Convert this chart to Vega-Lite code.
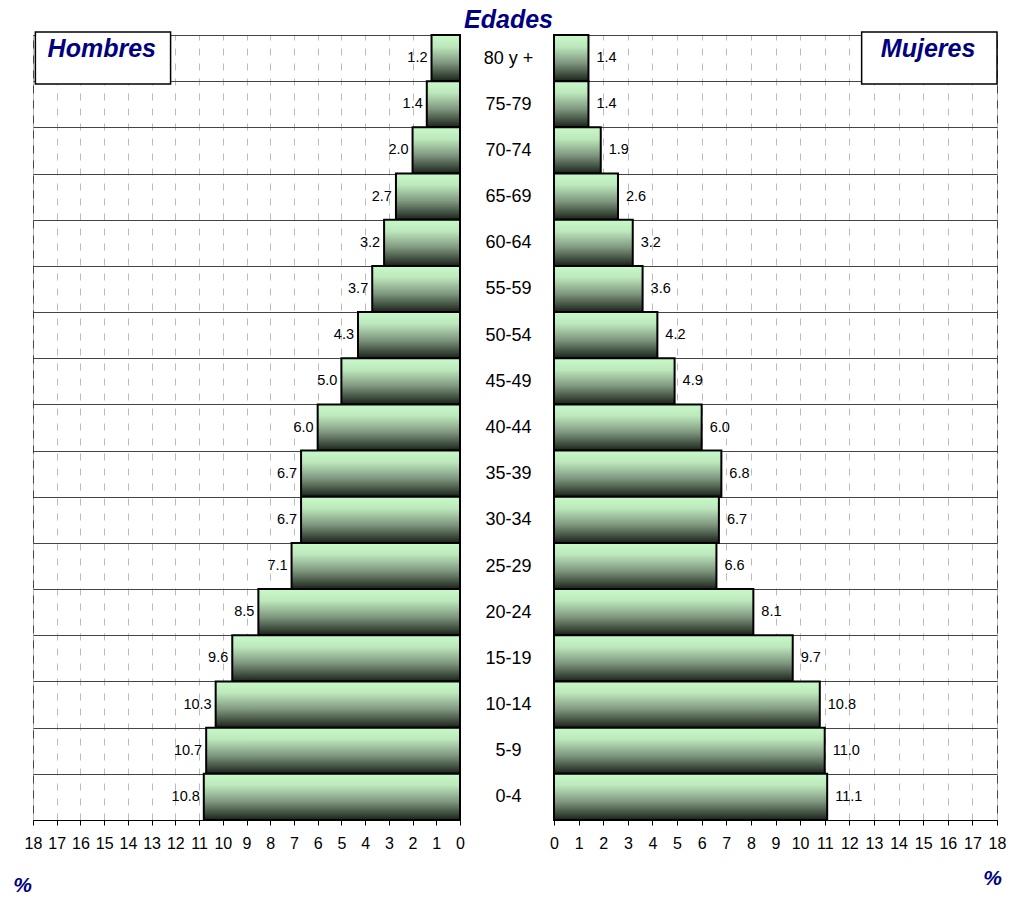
{
  "$schema": "https://vega.github.io/schema/vega-lite/v6.json",
  "background": "white",
  "padding": {"left": 12, "top": 6, "right": 0, "bottom": 0},
  "spacing": -2,
  "config": {
    "font": "Liberation Sans",
    "view": {"stroke": "#444", "strokeWidth": 1},
    "axis": {"labelFont": "Liberation Sans", "titleFont": "Liberation Sans"}
  },
  "datasets": {
    "pop": [
      {"edad": "80 y +", "hombres": 1.2, "mujeres": 1.4},
      {"edad": "75-79", "hombres": 1.4, "mujeres": 1.4},
      {"edad": "70-74", "hombres": 2.0, "mujeres": 1.9},
      {"edad": "65-69", "hombres": 2.7, "mujeres": 2.6},
      {"edad": "60-64", "hombres": 3.2, "mujeres": 3.2},
      {"edad": "55-59", "hombres": 3.7, "mujeres": 3.6},
      {"edad": "50-54", "hombres": 4.3, "mujeres": 4.2},
      {"edad": "45-49", "hombres": 5.0, "mujeres": 4.9},
      {"edad": "40-44", "hombres": 6.0, "mujeres": 6.0},
      {"edad": "35-39", "hombres": 6.7, "mujeres": 6.8},
      {"edad": "30-34", "hombres": 6.7, "mujeres": 6.7},
      {"edad": "25-29", "hombres": 7.1, "mujeres": 6.6},
      {"edad": "20-24", "hombres": 8.5, "mujeres": 8.1},
      {"edad": "15-19", "hombres": 9.6, "mujeres": 9.7},
      {"edad": "10-14", "hombres": 10.3, "mujeres": 10.8},
      {"edad": "5-9", "hombres": 10.7, "mujeres": 11.0},
      {"edad": "0-4", "hombres": 10.8, "mujeres": 11.1}
    ],
    "boxH": [{"edad": "80 y +", "label": "Hombres", "x1": 17.9, "x2": 12.2, "xt": 15.1}],
    "boxM": [{"edad": "80 y +", "label": "Mujeres", "x1": 12.5, "x2": 18.0, "xt": 15.2}]
  },
  "hconcat": [
    {
      "width": 427,
      "height": 785,
      "layer": [
        {
          "data": {"name": "pop"},
          "mark": {
            "type": "bar",
            "stroke": "black",
            "strokeWidth": 2,
            "color": {"gradient": "linear", "x1": 0, "y1": 0, "x2": 0, "y2": 1,
              "stops": [
                {"offset": 0, "color": "#c8fac8"},
                {"offset": 0.25, "color": "#bde8bd"},
                {"offset": 0.6, "color": "#809880"},
                {"offset": 0.9, "color": "#334033"},
                {"offset": 1, "color": "#1a201a"}
              ]}
          },
          "encoding": {
            "y": {"field": "edad", "type": "nominal", "sort": null,
              "scale": {"paddingInner": 0, "paddingOuter": 0,
                "domain": ["80 y +","75-79","70-74","65-69","60-64","55-59","50-54","45-49","40-44","35-39","30-34","25-29","20-24","15-19","10-14","5-9","0-4"]},
              "axis": {"labels": false, "ticks": false, "domain": false, "title": null,
                "grid": true, "tickBand": "extent", "gridColor": "#444", "gridOpacity": 1, "gridWidth": 1}},
            "x": {"field": "hombres", "type": "quantitative",
              "scale": {"domain": [0, 18], "reverse": true, "nice": false},
              "axis": {"values": [0,1,2,3,4,5,6,7,8,9,10,11,12,13,14,15,16,17,18],
                "tickCount": 25, "labelOverlap": false, "labelFlush": false,
                "title": "%", "titleX": -11, "titleY": 65, "titleAngle": 0, "titleAlign": "center",
                "titleBaseline": "middle", "titleFontSize": 21, "titleFontWeight": "bold",
                "titleFontStyle": "italic", "titleColor": "#000080",
                "labelFontSize": 16, "labelColor": "#000", "labelPadding": 10,
                "tickSize": 5, "tickColor": "#000", "domainColor": "#000",
                "grid": true, "gridColor": "#bbb", "gridDash": [7, 8], "gridOpacity": 1}}
          }
        },
        {
          "data": {"name": "pop"},
          "mark": {"type": "text", "align": "right", "baseline": "middle", "dx": -4, "fontSize": 14.5, "color": "#000"},
          "encoding": {
            "y": {"field": "edad", "type": "nominal", "sort": null},
            "x": {"field": "hombres", "type": "quantitative"},
            "text": {"field": "hombres", "type": "quantitative", "format": ".1f"}
          }
        },
        {
          "data": {"name": "boxH"},
          "mark": {"type": "bar", "fill": "white", "stroke": "black", "strokeWidth": 1.5, "height": 52},
          "encoding": {
            "y": {"field": "edad", "type": "nominal", "sort": null},
            "x": {"field": "x1", "type": "quantitative"},
            "x2": {"field": "x2"}
          }
        },
        {
          "data": {"name": "boxH"},
          "mark": {"type": "text", "baseline": "middle", "align": "center", "dy": -9, "fontSize": 25,
            "fontWeight": "bold", "fontStyle": "italic", "color": "#000080"},
          "encoding": {
            "y": {"field": "edad", "type": "nominal", "sort": null},
            "x": {"field": "xt", "type": "quantitative"},
            "text": {"field": "label"}
          }
        }
      ]
    },
    {
      "width": 443,
      "height": 785,
      "layer": [
        {
          "data": {"name": "pop"},
          "mark": {
            "type": "bar",
            "stroke": "black",
            "strokeWidth": 2,
            "color": {"gradient": "linear", "x1": 0, "y1": 0, "x2": 0, "y2": 1,
              "stops": [
                {"offset": 0, "color": "#c8fac8"},
                {"offset": 0.25, "color": "#bde8bd"},
                {"offset": 0.6, "color": "#809880"},
                {"offset": 0.9, "color": "#334033"},
                {"offset": 1, "color": "#1a201a"}
              ]}
          },
          "encoding": {
            "y": {"field": "edad", "type": "nominal", "sort": null,
              "scale": {"paddingInner": 0, "paddingOuter": 0,
                "domain": ["80 y +","75-79","70-74","65-69","60-64","55-59","50-54","45-49","40-44","35-39","30-34","25-29","20-24","15-19","10-14","5-9","0-4"]},
              "axis": {"orient": "left", "ticks": false, "tickSize": 0, "domain": false,
                "labelAlign": "center", "labelBaseline": "middle", "labelPadding": 46,
                "labelFontSize": 18, "labelColor": "#000",
                "title": "Edades", "titleAngle": 0, "titleX": -46, "titleY": -8,
                "titleAlign": "center", "titleBaseline": "alphabetic", "titleFontSize": 25,
                "titleFontWeight": "bold", "titleFontStyle": "italic", "titleColor": "#000080",
                "grid": true, "tickBand": "extent", "gridColor": "#444", "gridOpacity": 1, "gridWidth": 1}},
            "x": {"field": "mujeres", "type": "quantitative",
              "scale": {"domain": [0, 18], "nice": false},
              "axis": {"values": [0,1,2,3,4,5,6,7,8,9,10,11,12,13,14,15,16,17,18],
                "tickCount": 25, "labelOverlap": false, "labelFlush": false,
                "title": "%", "titleX": 438, "titleY": 58, "titleAngle": 0, "titleAlign": "center",
                "titleBaseline": "middle", "titleFontSize": 21, "titleFontWeight": "bold",
                "titleFontStyle": "italic", "titleColor": "#000080",
                "labelFontSize": 16, "labelColor": "#000", "labelPadding": 10,
                "tickSize": 5, "tickColor": "#000", "domainColor": "#000",
                "grid": true, "gridColor": "#bbb", "gridDash": [7, 8], "gridOpacity": 1}}
          }
        },
        {
          "data": {"name": "pop"},
          "mark": {"type": "text", "align": "left", "baseline": "middle", "dx": 8, "fontSize": 14.5, "color": "#000"},
          "encoding": {
            "y": {"field": "edad", "type": "nominal", "sort": null},
            "x": {"field": "mujeres", "type": "quantitative"},
            "text": {"field": "mujeres", "type": "quantitative", "format": ".1f"}
          }
        },
        {
          "data": {"name": "boxM"},
          "mark": {"type": "bar", "fill": "white", "stroke": "black", "strokeWidth": 1.5, "height": 52},
          "encoding": {
            "y": {"field": "edad", "type": "nominal", "sort": null},
            "x": {"field": "x1", "type": "quantitative"},
            "x2": {"field": "x2"}
          }
        },
        {
          "data": {"name": "boxM"},
          "mark": {"type": "text", "baseline": "middle", "align": "center", "dy": -9, "fontSize": 25,
            "fontWeight": "bold", "fontStyle": "italic", "color": "#000080"},
          "encoding": {
            "y": {"field": "edad", "type": "nominal", "sort": null},
            "x": {"field": "xt", "type": "quantitative"},
            "text": {"field": "label"}
          }
        }
      ]
    }
  ]
}
